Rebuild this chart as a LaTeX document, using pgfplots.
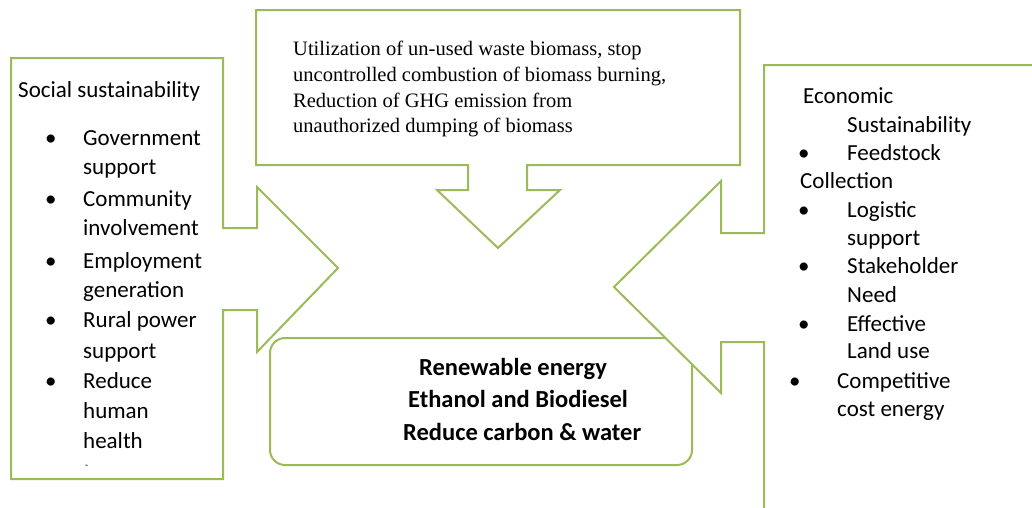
\documentclass[border=0pt]{standalone}
\usepackage{fontspec}
\setmainfont{Carlito}
\newfontfamily\serif{Liberation Serif}
\usepackage{pgfplots}
\pgfplotsset{compat=1.18}
\definecolor{frame}{RGB}{155,187,89}
\begin{document}
\begin{tikzpicture}
\begin{axis}[
  width=1032pt, height=507pt, scale only axis,
  xmin=0, xmax=1032, ymin=0, ymax=507, y dir=reverse,
  hide axis, clip=true,
]
\path (rel axis cs:0,0) rectangle (rel axis cs:1,1);
% left arrow callout
\addplot[draw=frame, fill=white, line width=2pt, mark=none] coordinates {
 (11,58) (223,58) (223,228) (257,228) (257,187) (338,268) (257,352) (257,310) (223,310) (223,479) (11,479)} -- cycle;
% top arrow callout
\addplot[draw=frame, fill=white, line width=2pt, mark=none] coordinates {
 (256,10) (740,10) (740,165) (527,165) (527,190) (560,190) (498,248) (437,190) (468,190) (468,165) (256,165)} -- cycle;
% centre rounded box
\addplot[draw=frame, fill=white, line width=2pt, mark=none, rounded corners=15pt] coordinates {
 (270,338) (692,338) (692,465) (270,465)} -- cycle;
% right arrow callout
\addplot[draw=frame, fill=white, line width=2pt, mark=none] coordinates {
 (1040,65) (764,65) (764,233) (721,233) (721,181) (614,287) (721,393) (721,342) (764,342) (764,520) (1040,520)} -- cycle;

% left texts
\begin{scope}[every node/.style={anchor=base west, inner sep=0pt, font=\fontsize{23}{27}\selectfont}]
\node at (axis cs:18,97) {Social sustainability};
\node at (axis cs:45,145) {\textbullet};
\node at (axis cs:83,145) {Government};
\node at (axis cs:83,174) {support};
\node at (axis cs:45,206) {\textbullet};
\node at (axis cs:83,206) {Community};
\node at (axis cs:83,235) {involvement};
\node at (axis cs:45,268) {\textbullet};
\node at (axis cs:83,268) {Employment};
\node at (axis cs:83,297) {generation};
\node at (axis cs:45,327) {\textbullet};
\node at (axis cs:83,327) {Rural power};
\node at (axis cs:83,358) {support};
\node at (axis cs:45,388) {\textbullet};
\node at (axis cs:83,388) {Reduce};
\node at (axis cs:83,418) {human};
\node at (axis cs:83,448) {health};
\node[font=\fontsize{10}{12}\selectfont] at (axis cs:85,468) {-};
% right texts
\node at (axis cs:803,103) {Economic};
\node at (axis cs:847,132) {Sustainability};
\node at (axis cs:798,160) {\textbullet};
\node at (axis cs:847,160) {Feedstock};
\node at (axis cs:800,188) {Collection};
\node at (axis cs:798,217) {\textbullet};
\node at (axis cs:847,217) {Logistic};
\node at (axis cs:847,245) {support};
\node at (axis cs:798,273) {\textbullet};
\node at (axis cs:847,273) {Stakeholder};
\node at (axis cs:847,302) {Need};
\node at (axis cs:798,331) {\textbullet};
\node at (axis cs:847,331) {Effective};
\node at (axis cs:847,358) {Land use};
\node at (axis cs:789,388) {\textbullet};
\node at (axis cs:837,388) {Competitive};
\node at (axis cs:837,416) {cost energy};
% centre texts
\node[font=\fontsize{24.5}{28}\selectfont\bfseries] at (axis cs:419,375) {Renewable energy};
\node[font=\fontsize{24.5}{28}\selectfont\bfseries] at (axis cs:408,407) {Ethanol and Biodiesel};
\node[font=\fontsize{24.5}{28}\selectfont\bfseries] at (axis cs:403,440) {Reduce carbon \& water};
% top texts
\node[font=\serif\fontsize{20.5}{24}\selectfont] at (axis cs:293,55) {Utilization of un-used waste biomass, stop};
\node[font=\serif\fontsize{20.5}{24}\selectfont] at (axis cs:293,81) {uncontrolled combustion of biomass burning,};
\node[font=\serif\fontsize{20.5}{24}\selectfont] at (axis cs:293,107) {Reduction of GHG emission from};
\node[font=\serif\fontsize{20.5}{24}\selectfont] at (axis cs:293,132) {unauthorized dumping of biomass};
\end{scope}
\end{axis}
\end{tikzpicture}
\end{document}
